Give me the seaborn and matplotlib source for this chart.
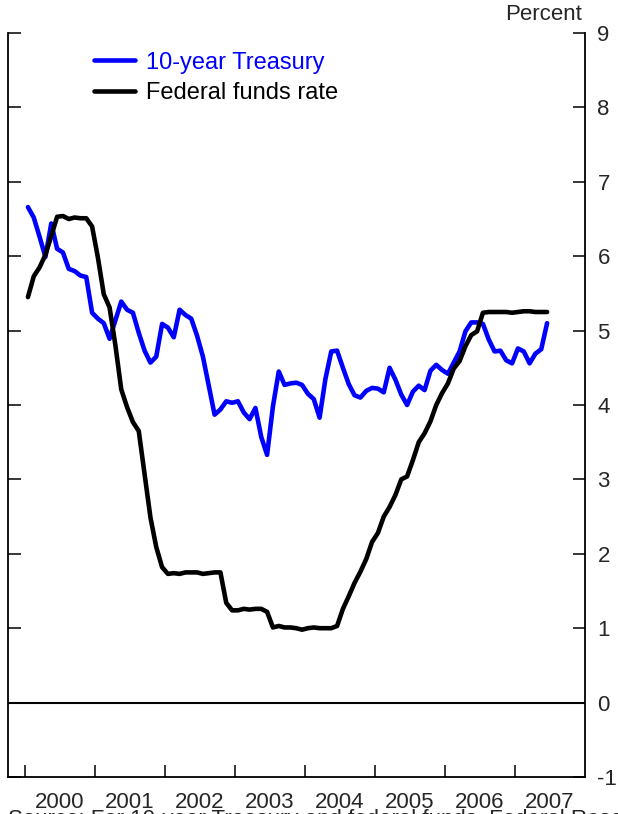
import numpy as np
import pandas as pd
import matplotlib
matplotlib.use("Agg")
import matplotlib.pyplot as plt
import seaborn as sns
from matplotlib.lines import Line2D

# monthly values, Jan 2000 - Jun 2007
treasury_10y = [
    6.66, 6.52, 6.26, 5.99, 6.44, 6.10, 6.05, 5.83, 5.80, 5.74, 5.72, 5.24,
    5.16, 5.10, 4.89, 5.14, 5.39, 5.28, 5.24, 4.97, 4.73, 4.57, 4.65, 5.09,
    5.04, 4.91, 5.28, 5.21, 5.16, 4.93, 4.65, 4.26, 3.87, 3.94, 4.05, 4.03,
    4.05, 3.90, 3.81, 3.96, 3.57, 3.33, 3.98, 4.45, 4.27, 4.29, 4.30, 4.27,
    4.15, 4.08, 3.83, 4.35, 4.72, 4.73, 4.50, 4.28, 4.13, 4.10, 4.19, 4.23,
    4.22, 4.17, 4.50, 4.34, 4.14, 4.00, 4.18, 4.26, 4.20, 4.46, 4.54, 4.47,
    4.42, 4.57, 4.72, 4.99, 5.11, 5.11, 5.09, 4.88, 4.72, 4.73, 4.60, 4.56,
    4.76, 4.72, 4.56, 4.69, 4.75, 5.10,
]
fed_funds = [
    5.45, 5.73, 5.85, 6.02, 6.27, 6.53, 6.54, 6.50, 6.52, 6.51, 6.51, 6.40,
    5.98, 5.49, 5.31, 4.80, 4.21, 3.97, 3.77, 3.65, 3.07, 2.49, 2.09, 1.82,
    1.73, 1.74, 1.73, 1.75, 1.75, 1.75, 1.73, 1.74, 1.75, 1.75, 1.34, 1.24,
    1.24, 1.26, 1.25, 1.26, 1.26, 1.22, 1.01, 1.03, 1.01, 1.01, 1.00, 0.98,
    1.00, 1.01, 1.00, 1.00, 1.00, 1.03, 1.26, 1.43, 1.61, 1.76, 1.93, 2.16,
    2.28, 2.50, 2.63, 2.79, 3.00, 3.04, 3.26, 3.50, 3.62, 3.78, 4.00, 4.16,
    4.29, 4.49, 4.59, 4.79, 4.94, 4.99, 5.24, 5.25, 5.25, 5.25, 5.25, 5.24,
    5.25, 5.26, 5.26, 5.25, 5.25, 5.25,
]
years = list(range(2000, 2008))
series_names = ["10-year Treasury", "Federal funds rate"]
colors = {"10-year Treasury": "#0000ff", "Federal funds rate": "#000000"}

# mid-month positions as fractional years
t = 2000 + (np.arange(len(fed_funds)) + 0.5) / 12
df = pd.concat([
    pd.DataFrame({"t": t, "value": treasury_10y, "series": series_names[0]}),
    pd.DataFrame({"t": t, "value": fed_funds, "series": series_names[1]}),
])

sns.set_style("white")
plt.rcParams["font.family"] = ["Liberation Sans", "DejaVu Sans"]
plt.rcParams["axes.unicode_minus"] = False

fig = plt.figure(figsize=(6.18, 8.14), dpi=100)
ax = fig.add_axes([8 / 618, 1 - 777 / 814, 577 / 618, 744 / 814])

sns.lineplot(data=df, x="t", y="value", hue="series", palette=colors,
             hue_order=series_names, linewidth=3.3, ax=ax, legend=False,
             sort=False)
ax.axhline(0, color="black", linewidth=1.5)

ax.set_xlim(1999.757, 2008.0)
ax.set_ylim(-1, 9)
ax.set_xlabel("")
ax.set_ylabel("")

ax.spines["top"].set_visible(False)
for s in ["left", "right", "bottom"]:
    ax.spines[s].set_visible(True)
    ax.spines[s].set_color("black")
    ax.spines[s].set_linewidth(1.3)

ax.set_yticks(range(-1, 10))
ax.tick_params(axis="y", which="major", direction="in", left=True, right=True,
               labelleft=False, labelright=True, length=9, width=1.3,
               labelsize=16, pad=9)
ax.set_xticks(years)
ax.set_xticklabels([])
ax.set_xticks([y + 0.5 for y in years], minor=True)
ax.set_xticklabels([str(y) for y in years], minor=True)
ax.tick_params(axis="x", which="major", direction="in", bottom=True,
               length=9, width=1.3)
ax.tick_params(axis="x", which="minor", bottom=True, length=0,
               labelsize=16, pad=11)

handles = [Line2D([], [], color=colors[n], linewidth=3.3) for n in series_names]
leg = ax.legend(handles, series_names, loc="upper left", frameon=False,
                bbox_to_anchor=(0.12, 0.997), fontsize=17, handlelength=1.75,
                handletextpad=0.45, labelspacing=0.35, borderaxespad=0.3)
for txt, n in zip(leg.get_texts(), series_names):
    txt.set_color(colors[n])

fig.text(582 / 618, 1 - 14 / 814, "Percent", ha="right", va="center", fontsize=16)
fig.text(8 / 618, 1 - 809 / 814,
         "Source: For 10-year Treasury and federal funds, Federal Reserve Board.",
         ha="left", va="top", fontsize=16)

fig.savefig("out.png", dpi=100)
